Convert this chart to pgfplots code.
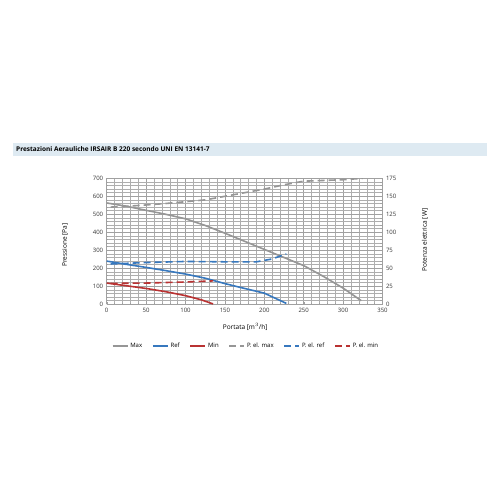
\documentclass[border=0pt]{standalone}
\usepackage{fontspec}
\setmainfont{Open Sans}
\usepackage{pgfplots}
\pgfplotsset{compat=1.18}
\definecolor{cgray}{RGB}{150,150,150}
\definecolor{cblue}{RGB}{55,120,190}
\definecolor{cred}{RGB}{185,50,50}
\definecolor{band}{RGB}{222,234,242}
\definecolor{gridc}{RGB}{160,160,160}
\begin{document}
\begin{tikzpicture}[x=1pt,y=1pt]
\path[use as bounding box, fill=white] (0,0) rectangle (500,500);
\fill[band] (13,344) rectangle (487,357);
\node[anchor=west, font=\bfseries\fontsize{6.5}{7}\selectfont, inner sep=0pt] at (16,350.5) {Prestazioni Aerauliche IRSAIR B 220 secondo UNI EN 13141-7};
\pgfplotsset{
  myaxis/.style={
    at={(106.7pt,195.7pt)}, anchor=south west,
    scale only axis, width=275.8pt, height=126pt,
    xmin=0, xmax=350,
    tick label style={font=\fontsize{6}{7}\selectfont, text=black!80},
    label style={font=\fontsize{6.5}{7}\selectfont},
    /pgf/number format/assume math mode=true,
    every axis plot/.append style={line width=1.6pt},
  }
}
\begin{axis}[myaxis,
  ymin=0, ymax=700,
  xtick={0,50,...,350}, ytick={0,100,...,700},
  minor x tick num=4, minor y tick num=4,
  grid=both,
  major grid style={gridc, line width=0.5pt},
  minor grid style={gridc!85, line width=0.4pt},
  axis line style={gridc, line width=0.5pt},
  tick style={gridc, line width=0.4pt},
  major tick length=2pt, minor tick length=1.5pt,
  axis x line*=bottom, axis y line*=left,
  xlabel={Portata [m$^3$/h]},
  ylabel={Pressione [Pa]},
  xlabel style={at={(axis description cs:0.502,-0.18)}, anchor=center},
  ylabel style={at={(axis description cs:-0.151,0.47)}, anchor=center},
]
\addplot[cgray] coordinates {(0,563) (25,545) (50,522) (75,500) (100,475) (125,438) (150,395) (175,350) (200,305) (225,260) (250,215) (275,155) (300,90) (323,20)};
\addplot[cblue] coordinates {(0,240) (25,222) (50,205) (75,187) (100,168) (125,145) (150,115) (175,88) (200,62) (228,5)};
\addplot[cred] coordinates {(0,118) (25,103) (50,88) (75,70) (100,48) (120,25) (135,2)};
\end{axis}
\begin{axis}[myaxis,
  ymin=0, ymax=175,
  ytick={0,25,...,175},
  axis x line=none, axis y line*=right,
  axis line style={gridc, line width=0.5pt},
  tick style={gridc, line width=0.4pt},
  major tick length=2pt,
  minor y tick num=4,
  ylabel={Potenza elettrica [W]},
  ylabel style={at={(axis description cs:1.154,0.51)}, anchor=center},
  legend columns=6,
  legend style={at={(0.505,-0.331)}, anchor=center, draw=none, fill=none,
    font=\fontsize{6}{7}\selectfont, /tikz/every even column/.append style={column sep=8pt}},
  legend image code/.code={\draw[#1, line width=1.4pt] (0pt,0pt) -- (15pt,0pt);},
]
\addlegendimage{cgray}\addlegendentry{Max}
\addlegendimage{cblue}\addlegendentry{Ref}
\addlegendimage{cred}\addlegendentry{Min}
\addplot[cgray, dash pattern=on 7pt off 4pt] coordinates {(5,135) (25,136) (50,138) (75,140) (100,142.5) (125,145) (150,150) (175,155) (200,160) (225,166) (250,171) (275,172) (300,173) (325,175)};
\addlegendentry{P. el. max}
\addplot[cblue, dash pattern=on 7pt off 4pt] coordinates {(5,56) (50,58) (100,59.5) (150,59) (190,59) (210,63) (228,70)};
\addlegendentry{P. el. ref}
\addplot[cred, dash pattern=on 7pt off 4pt] coordinates {(5,29) (50,29.5) (100,31) (135,32.5)};
\addlegendentry{P. el. min}
\end{axis}
\end{tikzpicture}
\end{document}
